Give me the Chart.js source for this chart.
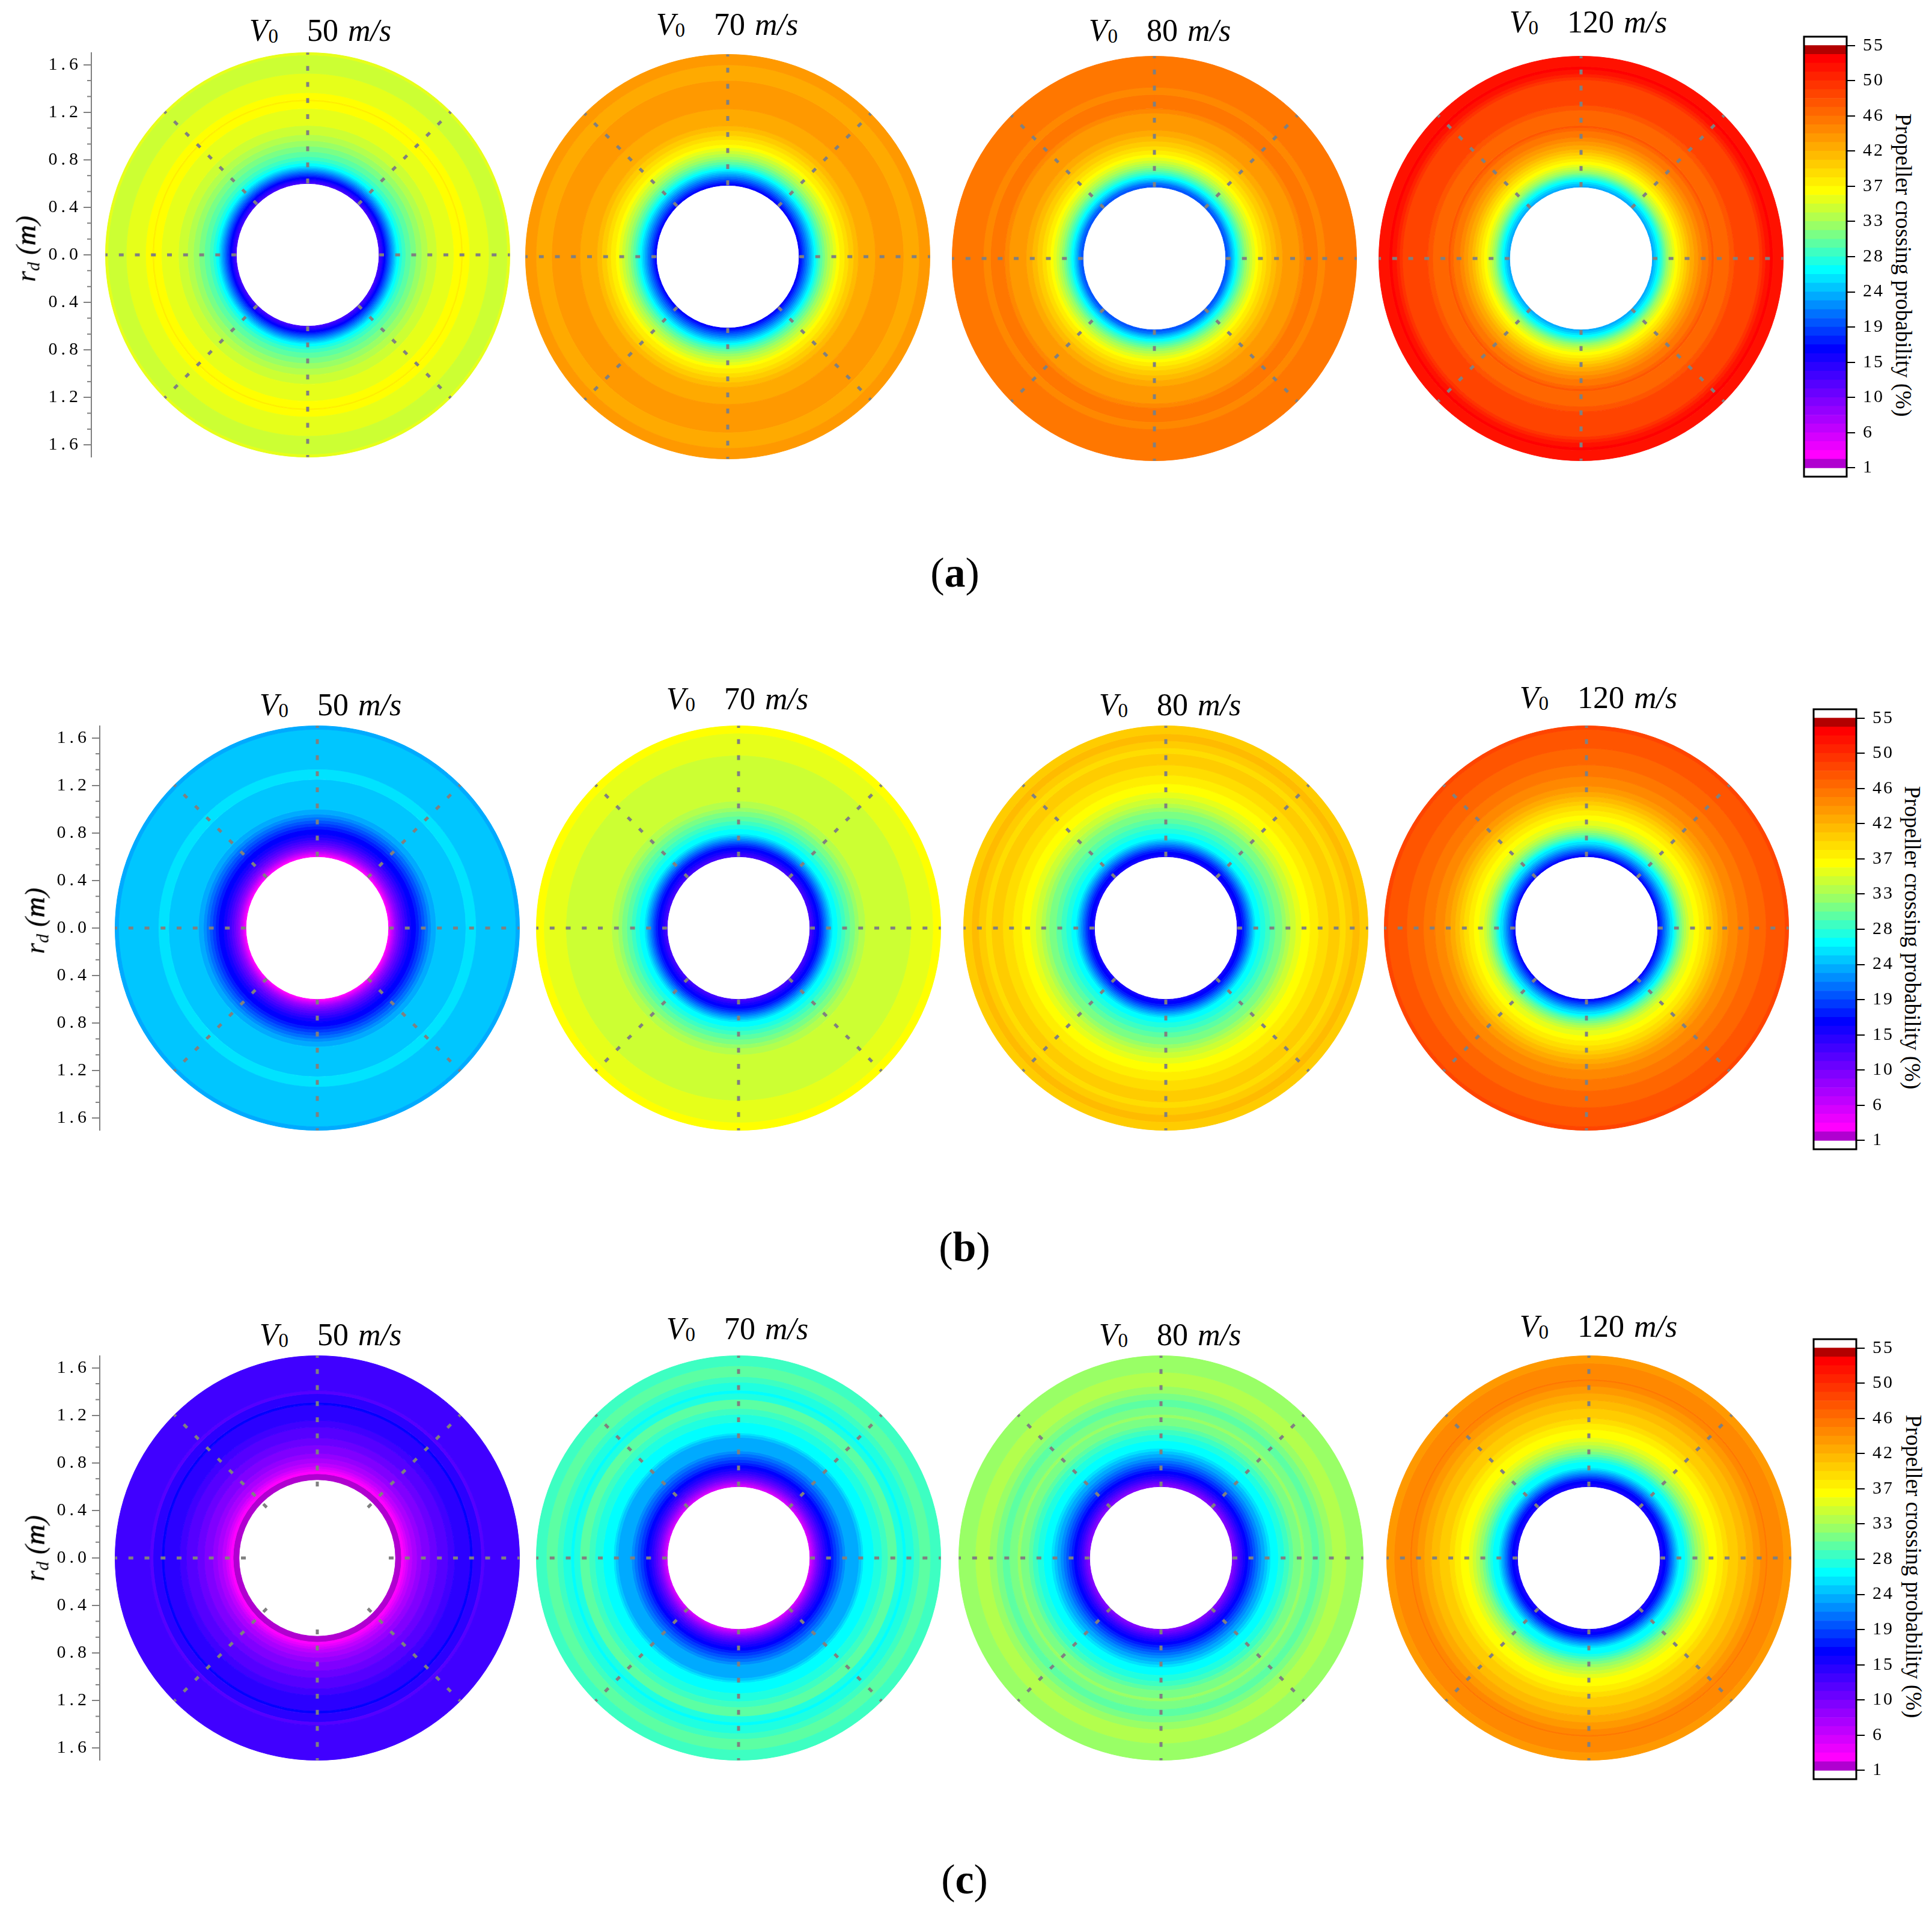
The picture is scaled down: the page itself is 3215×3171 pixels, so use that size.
<!DOCTYPE html>
<html><head><meta charset="utf-8">
<script src="https://cdn.jsdelivr.net/npm/chart.js@4/dist/chart.umd.min.js"></script>
<style>
html,body{margin:0;padding:0;background:#fff;}
#page{position:relative;width:3215px;height:3171px;overflow:hidden;background:#fff;font-family:"Liberation Serif",serif;color:#000;}
canvas{position:absolute;}
.t{position:absolute;white-space:pre;transform:translate(-50%,-50%);line-height:1;}
.title{font-size:52px;word-spacing:3px;}
.title sub{font-size:33px;vertical-align:-3px;line-height:0;}
.rd{font-size:47px;font-style:italic;transform:translate(-50%,-50%) rotate(-90deg);}
.rd sub{font-size:30px;vertical-align:-7px;line-height:0;}
.rd b{font-weight:normal;-webkit-text-stroke:0.7px #000;}
.panel{font-size:70px;}
.cbt{font-size:37px;transform:translate(-50%,-50%) rotate(90deg);}
</style></head><body><div id="page"></div>
<script>
// Ring data: [outer radius in metres, crossing probability in %], outermost ring first
const a50 = [[1.70,35.3],[1.68,34.2],[1.526,35.3],[1.363,36.4],[1.307,37.6],[1.295,36.4],[1.231,35.3],[1.088,34.2],[1.012,33.1],[.961,31.9],[.914,30.8],[.869,29.7],[.826,28.6],[.796,27.4],[.773,26.3],[.751,25.2],[.739,24.1],[.727,22.9],[.715,21.8],[.703,20.7],[.691,19.6],[.679,18.4],[.667,17.3],[.656,16.2],[.64,15.1],[.63,13.9],[.615,12.8]];
const a70 = [[1.70,43.2],[1.612,42.1],[1.481,43.2],[1.243,42.1],[1.100,40.9],[1.061,39.8],[1.019,38.7],[.985,37.6],[.943,36.4],[.918,35.3],[.892,34.2],[.867,33.1],[.842,31.9],[.820,30.8],[.800,29.7],[.779,28.6],[.762,27.4],[.746,26.3],[.729,25.2],[.715,24.1],[.701,22.9],[.687,21.8],[.673,20.7],[.658,19.6],[.644,18.4],[.630,17.3],[.616,16.2]];
const a80 = [[1.70,45.4],[1.439,44.3],[1.378,45.4],[1.260,44.3],[1.223,43.2],[1.079,42.1],[1.029,40.9],[.987,39.8],[.945,38.7],[.911,37.6],[.877,36.4],[.852,35.3],[.826,34.2],[.805,33.1],[.784,31.9],[.764,30.8],[.747,29.7],[.730,28.6],[.713,27.4],[.700,26.3],[.683,25.2],[.670,24.1],[.658,22.9],[.646,21.8],[.636,20.7],[.62,19.6]];
const a120 = [[1.70,52.2],[1.614,53.3],[1.590,52.2],[1.552,51.1],[1.526,49.9],[1.501,48.8],[1.290,47.7],[1.248,46.6],[1.118,47.7],[1.101,46.6],[1.074,45.4],[1.020,44.3],[.987,43.2],[.953,42.1],[.919,40.9],[.894,39.8],[.869,38.7],[.843,37.6],[.818,36.4],[.793,35.3],[.773,34.2],[.754,33.1],[.737,31.9],[.720,30.8],[.707,29.7],[.693,28.6],[.680,27.4],[.666,26.3],[.649,25.2],[.633,24.1],[.616,22.9]];
const b50 = [[1.70,22.9],[1.670,24.1],[1.337,25.2],[1.250,24.1],[1.000,22.9],[.958,21.8],[.933,20.7],[.907,19.6],[.882,18.4],[.857,17.3],[.832,16.2],[.789,15.1],[.764,13.9],[.742,12.8],[.722,11.7],[.702,10.6],[.685,9.4],[.668,8.3],[.654,7.2],[.643,6.1],[.631,4.9],[.621,3.8],[.611,2.7]];
const b70 = [[1.70,36.4],[1.638,35.3],[1.452,34.2],[1.068,33.1],[1.015,31.9],[.982,30.8],[.941,29.7],[.902,28.6],[.869,27.4],[.835,26.3],[.793,25.2],[.779,24.1],[.766,22.9],[.752,21.8],[.739,20.7],[.725,19.6],[.712,18.4],[.698,17.3],[.681,16.2],[.658,15.1],[.638,13.9],[.621,12.8]];
const b80 = [[1.70,39.8],[1.633,40.9],[1.574,39.8],[1.515,38.7],[1.467,39.8],[1.371,38.7],[1.287,37.6],[1.214,36.4],[1.144,35.3],[1.096,34.2],[1.049,33.1],[1.015,31.9],[.982,30.8],[.924,29.7],[.882,28.6],[.840,27.4],[.798,26.3],[.756,25.2],[.742,24.1],[.729,22.9],[.715,21.8],[.702,20.7],[.688,19.6],[.675,18.4],[.661,17.3],[.644,16.2],[.617,15.1]];
const b120 = [[1.70,48.8],[1.670,47.7],[1.511,46.6],[1.371,45.4],[1.275,44.3],[1.194,43.2],[1.147,42.1],[1.106,40.9],[1.068,39.8],[1.034,38.7],[.992,37.6],[.950,36.4],[.907,35.3],[.865,34.2],[.843,33.1],[.823,31.9],[.805,30.8],[.786,29.7],[.769,28.6],[.756,27.4],[.742,26.3],[.729,25.2],[.708,24.1],[.695,22.9],[.681,21.8],[.668,20.7],[.654,19.6],[.641,18.4],[.627,17.3],[.614,16.2]];
const c50 = [[1.70,12.8],[1.407,11.7],[1.381,13.9],[1.309,16.2],[1.289,13.9],[1.157,12.8],[1.101,11.7],[1.010,10.6],[.95,9.4],[.88,8.3],[.84,7.2],[.80,6.1],[.77,4.9],[.75,3.8],[.73,2.7],[.708,1.6]];
const c70 = [[1.70,28.6],[1.616,29.7],[1.525,28.6],[1.477,27.4],[1.410,26.3],[1.385,27.4],[1.334,29.7],[1.258,28.6],[1.208,27.4],[1.140,26.3],[1.052,25.2],[1.036,24.1],[1.014,22.9],[.901,21.8],[.879,20.7],[.853,19.6],[.828,18.4],[.803,17.3],[.783,16.2],[.756,15.1],[.735,13.9],[.715,12.8],[.698,11.7],[.681,10.6],[.665,9.4],[.651,8.3],[.638,7.2],[.626,6.1],[.614,4.9]];
const c80 = [[1.70,31.9],[1.562,33.1],[1.444,31.9],[1.385,30.8],[1.334,29.7],[1.275,30.8],[1.208,31.9],[1.182,30.8],[1.115,29.7],[1.081,28.6],[1.039,27.4],[.988,26.3],[.924,25.2],[.901,24.1],[.877,22.9],[.847,21.8],[.823,20.7],[.800,19.6],[.778,18.4],[.756,17.3],[.735,16.2],[.710,15.1],[.690,13.9],[.671,12.8],[.654,11.7],[.638,10.6],[.621,9.4]];
const c120 = [[1.70,43.2],[1.638,44.3],[1.503,45.4],[1.491,44.3],[1.444,43.2],[1.385,42.1],[1.326,40.9],[1.258,39.8],[1.174,38.7],[1.132,37.6],[1.081,36.4],[1.014,35.3],[.980,34.2],[.951,33.1],[.924,31.9],[.897,30.8],[.874,29.7],[.853,28.6],[.833,27.4],[.811,26.3],[.761,25.2],[.747,24.1],[.734,22.9],[.720,21.8],[.707,20.7],[.693,19.6],[.681,18.4],[.668,17.3],[.651,16.2],[.626,15.1]];
const holeRadius = {a50:.60,a70:.60,a80:.60,a120:.60,b50:.60,b70:.60,b80:.60,b120:.60,c50:.658,c70:.60,c80:.60,c120:.60};

const speeds = ["50","70","80","120"];
const yTickValues = [1.6,1.2,0.8,0.4,0,-0.4,-0.8,-1.2,-1.6];
const yMinorTicks = [1.467,1.333,1.067,0.933,0.667,0.533,0.267,0.133,-0.133,-0.267,-0.533,-0.667,-0.933,-1.067,-1.333,-1.467];
const colorbarTicks = [1,5.5,10,14.5,19,23.5,28,32.5,37,41.5,46,50.5,55];
const colorbarLabels = ["1","6","10","15","19","24","28","33","37","42","46","50","55"];
const colorbarTitle = "Propeller crossing probability (%)";
const levelEdges = [1,2.125,3.25,4.375,5.5,6.625,7.75,8.875,10,11.125,12.25,13.375,14.5,15.625,16.75,17.875,19,20.125,21.25,22.375,23.5,24.625,25.75,26.875,28,29.125,30.25,31.375,32.5,33.625,34.75,35.875,37,38.125,39.25,40.375,41.5,42.625,43.75,44.875,46,47.125,48.25,49.375,50.5,51.625,52.75,53.875,55];
const spokeAngles = [0,45,90,135,180,225,270,315];
const RMAX = 1.7;

// layout
const discs = [
 {d:a50,k:"a50",cx:512,cy:424,tx:533,ty:51,s:0},{d:a70,k:"a70",cx:1211,cy:427,tx:1210,ty:41,s:1},{d:a80,k:"a80",cx:1921,cy:430,tx:1930,ty:51,s:2},{d:a120,k:"a120",cx:2631,cy:430,tx:2643,ty:37,s:3},
 {d:b50,k:"b50",cx:528,cy:1544,tx:550,ty:1173,s:0},{d:b70,k:"b70",cx:1229,cy:1544,tx:1227,ty:1163,s:1},{d:b80,k:"b80",cx:1940,cy:1544,tx:1947,ty:1173,s:2},{d:b120,k:"b120",cx:2640,cy:1544,tx:2660,ty:1161,s:3},
 {d:c50,k:"c50",cx:528,cy:2592,tx:550,ty:2221,s:0},{d:c70,k:"c70",cx:1229,cy:2592,tx:1227,ty:2211,s:1},{d:c80,k:"c80",cx:1932,cy:2592,tx:1947,ty:2221,s:2},{d:c120,k:"c120",cx:2644,cy:2592,tx:2660,ty:2207,s:3}
];
const axes = [{x:152,cy:424,rx:43,ry:414},{x:166,cy:1544,rx:58,ry:1532},{x:166,cy:2592,rx:58,ry:2576}];
const bars = [{x:3002,y:60,tx:3167,ty:441},{x:3018,y:1179,tx:3182,ty:1560},{x:3018,y:2227,tx:3184,ty:2606}];
const panels = [{t:'(<b>a</b>)',x:1589,y:953},{t:'(<b>b</b>)',x:1605,y:2075},{t:'(<b>c</b>)',x:1605,y:3127}];

const SERIF = "'Liberation Serif', serif";
const page = document.getElementById('page');
Chart.defaults.animation = false;
Chart.defaults.responsive = false;
Chart.defaults.devicePixelRatio = 1;
Chart.defaults.plugins.legend.display = false;
Chart.defaults.plugins.tooltip.enabled = false;

function mk(x,y,w,h){const c=document.createElement('canvas');c.width=w;c.height=h;c.style.cssText=`left:${x}px;top:${y}px;width:${w}px;height:${h}px`;page.appendChild(c);return c;}
function text(cls,html,x,y){const e=document.createElement('div');e.className='t '+cls;e.innerHTML=html;e.style.left=x+'px';e.style.top=y+'px';page.appendChild(e);}

function mix(a,b,t){return a.map((v,n)=>Math.round(v+(b[n]-v)*t));}
function bandColor(i){
  if(i<=0) return 'rgb(176,0,208)';
  if(i>=47) return 'rgb(179,0,0)';
  const stops=[[1,[255,0,255]],[13,[0,0,255]],[22,[0,255,255]],[27,[153,255,102]],[31,[255,255,0]],[46,[255,0,0]]];
  for(let s=0;s<stops.length-1;s++){
    if(i<=stops[s+1][0]){const c=mix(stops[s][1],stops[s+1][1],(i-stops[s][0])/(stops[s+1][0]-stops[s][0]));return `rgb(${c})`;}
  }
  return 'rgb(255,0,0)';
}
function probColor(p){let i=0;while(i<levelEdges.length-2&&p>=levelEdges[i+1])i++;return bandColor(i);}

const spokes={id:'spokes',afterDatasetsDraw(ch){
  const m=ch.getDatasetMeta(0),a=m.data[0],R=m.controller.outerRadius,ctx=ch.ctx;
  ctx.save();ctx.strokeStyle='#808080';ctx.lineWidth=5;ctx.setLineDash([8,18.75]);
  const r0=0.601*R/RMAX;
  spokeAngles.forEach(d=>{const t=d*Math.PI/180;ctx.beginPath();ctx.moveTo(a.x+r0*Math.cos(t),a.y+r0*Math.sin(t));ctx.lineTo(a.x+R*Math.cos(t),a.y+R*Math.sin(t));ctx.stroke();});
  ctx.restore();
}};

discs.forEach(D=>{
  const S=674;
  const hole=holeRadius[D.k];
  const datasets=D.d.map((r,n)=>{
    const inner=n+1<D.d.length?D.d[n+1][0]:hole;
    const col=probColor(r[1]);
    return {data:[1],weight:r[0]-inner,backgroundColor:col,borderColor:col,borderWidth:1};
  });
  new Chart(mk(D.cx-S/2,D.cy-S/2,S,S),{type:'doughnut',data:{labels:['ring'],datasets},
    options:{cutout:(hole/RMAX*100)+'%',layout:{padding:0}},plugins:[spokes]});
  text('title',`<i>V</i><sub>0</sub>   ${speeds[D.s]} <i>m/s</i>`,D.tx,D.ty);
});

const tickSpace={id:'tickSpace',beforeDraw(ch){ch.ctx.letterSpacing=(ch.options.tickSpacing||0)+'px';}};
const minorTicks={id:'minorTicks',afterDraw(ch){
  const s=ch.scales.y,ctx=ch.ctx;ctx.save();ctx.strokeStyle='#808080';ctx.lineWidth=2;
  yMinorTicks.forEach(v=>{const y=s.getPixelForValue(v);ctx.beginPath();ctx.moveTo(s.right-7,y);ctx.lineTo(s.right,y);ctx.stroke();});
  ctx.restore();
}};
axes.forEach(A=>{
  const pad=30,W=150,H=672+2*pad;
  new Chart(mk(A.x-W+2,A.cy-H/2,W,H),{type:'scatter',data:{datasets:[]},
    options:{tickSpacing:6,layout:{padding:{top:pad,bottom:pad}},
      scales:{x:{display:false},
        y:{min:-RMAX,max:RMAX,afterFit(s){s.width=W-2;},
          afterBuildTicks(s){s.ticks=yTickValues.map(v=>({value:v}));},
          border:{color:'#808080',width:2},
          grid:{drawOnChartArea:false,color:'#808080',lineWidth:2,tickLength:13},
          ticks:{padding:3,color:'#000',font:{family:SERIF,size:30},callback:v=>Math.abs(v).toFixed(1)}}}},
    plugins:[tickSpace,minorTicks]});
  text('rd',`r<sub>d</sub> (<b>m</b>)`,A.rx,A.ry);
});

const frame={id:'frame',afterDatasetsDraw(ch){const a=ch.chartArea,ctx=ch.ctx;ctx.save();ctx.strokeStyle='#000';ctx.lineWidth=3;ctx.strokeRect(a.left,a.top,a.right-a.left,a.bottom-a.top);ctx.restore();}};
const bandDatasets=levelEdges.slice(0,-1).map((lo,i)=>({data:[[lo,levelEdges[i+1]]],backgroundColor:bandColor(i),borderWidth:0,grouped:false,barPercentage:1,categoryPercentage:1}));
bars.forEach(B=>{
  const W=140,padX=3,padY=30;
  new Chart(mk(B.x-padX,B.y-padY,W,734+2*padY),{type:'bar',data:{labels:['p'],datasets:bandDatasets},
    options:{tickSpacing:3,layout:{padding:{left:padX,top:padY,bottom:padY}},
      scales:{x:{display:false},
        y:{position:'right',min:-0.125,max:56.125,afterFit(s){s.width=W-padX-71;},
          afterBuildTicks(s){s.ticks=colorbarTicks.map(v=>({value:v}));},
          border:{display:false},
          grid:{drawOnChartArea:false,color:'#000',lineWidth:2,tickLength:14},
          ticks:{padding:13,color:'#000',font:{family:SERIF,size:30},callback:(v,i)=>colorbarLabels[i]}}}},
    plugins:[tickSpace,frame]});
  text('cbt',colorbarTitle,B.tx,B.ty);
});
panels.forEach(p=>text('panel',p.t,p.x,p.y));
</script></body></html>
